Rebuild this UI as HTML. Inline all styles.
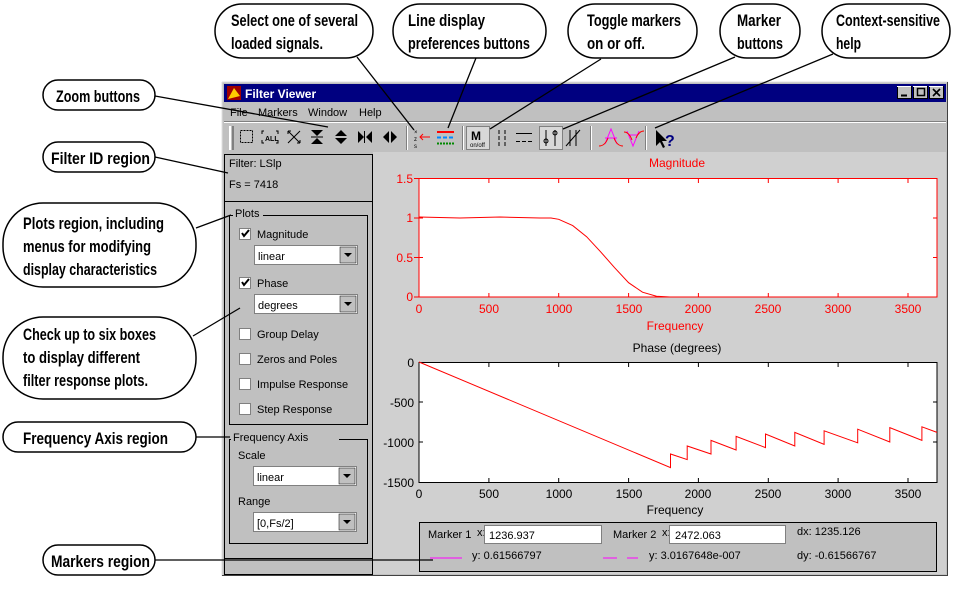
<!DOCTYPE html>
<html><head><meta charset="utf-8"><style>
html,body{margin:0;padding:0;background:#fff;}
svg{display:block;}
.c{font-family:"Liberation Sans",sans-serif;font-weight:bold;font-size:17px;fill:#000;}
.u{font-family:"Liberation Sans",sans-serif;font-size:11px;fill:#000;}
.r{font-family:"Liberation Sans",sans-serif;font-size:12px;fill:#f00;}
.k{font-family:"Liberation Sans",sans-serif;font-size:12px;fill:#000;}
</style></head><body>
<svg width="956" height="600" viewBox="0 0 956 600" xmlns="http://www.w3.org/2000/svg">
<rect width="956" height="600" fill="#fff"/>
<!-- window -->
<rect x="222" y="82" width="726" height="494" fill="#c0c0c0"/>
<line x1="222" y1="82" x2="948" y2="82" stroke="#e0e0e0"/>
<line x1="222" y1="82" x2="222" y2="576" stroke="#e0e0e0"/>
<line x1="947.5" y1="82" x2="947.5" y2="576" stroke="#404040"/>
<line x1="222" y1="575.5" x2="948" y2="575.5" stroke="#404040"/>
<rect x="224" y="84" width="722" height="18" fill="#000080"/>
<rect x="227" y="86" width="14" height="14" fill="#a00000"/>
<path d="M228 99 L234 88 L240 96 Z" fill="#ffcc00"/>
<text x="245" y="98" font-family="Liberation Sans" font-weight="bold" font-size="12" fill="#fff">Filter Viewer</text>
<g stroke="#000" fill="#c0c0c0">
<rect x="897.5" y="86.5" width="14" height="12"/><rect x="913.5" y="86.5" width="14" height="12"/><rect x="929.5" y="86.5" width="14" height="12"/>
</g>
<g fill="#fff"><rect x="897" y="86" width="14" height="1"/><rect x="913" y="86" width="14" height="1"/><rect x="929" y="86" width="14" height="1"/></g>
<line x1="901" y1="95.5" x2="907" y2="95.5" stroke="#000" stroke-width="2"/>
<rect x="917.5" y="88.5" width="7" height="7" fill="none" stroke="#000" stroke-width="1.5"/>
<path d="M933 89 L940 96 M940 89 L933 96" stroke="#000" stroke-width="1.6"/>
<!-- menu -->
<text x="230" y="116" class="u" font-size="11.5">File</text>
<text x="258" y="116" class="u" font-size="11.5">Markers</text>
<text x="308" y="116" class="u" font-size="11.5">Window</text>
<text x="359" y="116" class="u" font-size="11.5">Help</text>
<line x1="224" y1="121.5" x2="946" y2="121.5" stroke="#808080"/>
<line x1="224" y1="122.5" x2="946" y2="122.5" stroke="#fff"/>
<!-- toolbar -->
<rect x="229" y="126" width="2" height="24" fill="#fff"/><rect x="232" y="126" width="2" height="24" fill="#808080"/>
<g stroke="#000" fill="none" stroke-width="1">
<rect x="240.5" y="130.5" width="12" height="12" stroke-dasharray="2,1"/>
<path d="M264 131 h-2 v3 M276 131 h2 v3 M264 143 h-2 v-3 M276 143 h2 v-3"/>
<path d="M288 131 L300 143 M300 131 L288 143 M288 131 h3 M288 131 v3 M300 143 h-3 M300 143 v-3"/>
</g>
<text x="265" y="141" font-family="Liberation Sans" font-size="7" font-weight="bold">ALL</text>
<g fill="#000">
<path d="M311 130 h12 l-6 6 z M311 144 h12 l-6 -6 z"/><rect x="311" y="136.5" width="12" height="1"/>
<path d="M335 136 l6 -6 l6 6 z M335 138 l6 6 l6 -6 z"/>
<path d="M358 131 v12 l6 -6 z M372 131 v12 l-6 -6 z"/><rect x="364" y="131" width="1" height="12"/>
<path d="M389 131 v12 l-6 -6 z M391 131 v12 l6 -6 z"/>
</g>
<rect x="406" y="126" width="1" height="24" fill="#808080"/><rect x="407" y="126" width="1" height="24" fill="#fff"/>
<text x="414" y="134" font-family="Liberation Sans" font-size="6">×</text>
<text x="414" y="141" font-family="Liberation Sans" font-size="6">z</text>
<text x="414" y="148" font-family="Liberation Sans" font-size="6">s</text>
<path d="M420 137 h10 M423 134 l-3 3 l3 3" stroke="#f00" fill="none"/>
<rect x="437" y="131" width="17" height="2" fill="#f00"/>
<path d="M437 137.5 h17" stroke="#08f" stroke-width="2" stroke-dasharray="4,2"/>
<path d="M437 143.5 h17" stroke="#080" stroke-width="2" stroke-dasharray="2,1"/>
<rect x="462" y="126" width="1" height="24" fill="#808080"/><rect x="463" y="126" width="1" height="24" fill="#fff"/>
<rect x="466.5" y="126.5" width="23" height="23" fill="#d8d8d8" stroke="#808080"/>
<text x="471" y="140" font-family="Liberation Sans" font-weight="bold" font-size="12">M</text>
<text x="470" y="147" font-family="Liberation Sans" font-size="6">on/off</text>
<path d="M499 130 v4 M499 136 v4 M499 142 v4 M505 130 v4 M505 136 v4 M505 142 v4" stroke="#000"/>
<path d="M516 133.5 h16 M516 141.5 h4 M522 141.5 h4 M528 141.5 h4" stroke="#000"/>
<rect x="539.5" y="126.5" width="23" height="23" fill="#d8d8d8" stroke="#808080"/>
<path d="M546 130 v16 M555 130 v16" stroke="#000"/><circle cx="546" cy="141" r="2" fill="none" stroke="#000"/><circle cx="555" cy="133" r="2" fill="none" stroke="#000"/>
<path d="M566 146 L580 130 M570 130 v16 M576 130 v16" stroke="#000"/>
<rect x="590" y="126" width="1" height="24" fill="#808080"/><rect x="591" y="126" width="1" height="24" fill="#fff"/>
<path d="M605 144 L611 129 L617 144 M605 138 h12" stroke="#f0f" fill="none"/><path d="M599 146 q6 0 9 -8 M614 138 q3 8 9 8" stroke="#f00" fill="none"/>
<path d="M627 131 L633 146 L639 131 M628 135 h10" stroke="#f0f" fill="none"/><path d="M624 132 q5 0 8 8 M636 138 q3 -7 8 -7" stroke="#f00" fill="none"/>
<rect x="645" y="126" width="1" height="24" fill="#808080"/><rect x="646" y="126" width="1" height="24" fill="#fff"/>
<path d="M656 130 L656 146 L660 142 L663 148 L665 147 L662 141 L667 141 Z" fill="#000"/>
<text x="665" y="146" font-family="Liberation Sans" font-weight="bold" font-size="16" fill="#000080">?</text>
<!-- plot region bg -->
<rect x="373" y="152" width="573" height="422" fill="#d0d0d0"/>
<!-- left panel -->
<rect x="224.5" y="154.5" width="148" height="420" fill="#c0c0c0" stroke="#000"/>
<line x1="224" y1="201.5" x2="373" y2="201.5" stroke="#000"/>
<line x1="224" y1="558.5" x2="373" y2="558.5" stroke="#000"/>
<text x="229" y="167" class="u">Filter: LSlp</text>
<text x="229" y="188" class="u">Fs = 7418</text>
<rect x="229.5" y="215.5" width="138" height="209" fill="none" stroke="#000"/>
<rect x="233" y="209" width="30" height="12" fill="#c0c0c0"/>
<text x="235" y="217" class="u">Plots</text>
<rect x="229.5" y="439.5" width="138" height="104" fill="none" stroke="#000"/>
<rect x="231" y="432" width="108" height="12" fill="#c0c0c0"/>
<text x="233" y="441" class="u">Frequency Axis</text>
<!-- checkboxes -->
<g fill="#fff" stroke="#808080">
<rect x="239.5" y="228.5" width="11" height="11"/><rect x="239.5" y="277.5" width="11" height="11"/>
<rect x="239.5" y="328.5" width="11" height="11"/><rect x="239.5" y="353.5" width="11" height="11"/>
<rect x="239.5" y="378.5" width="11" height="11"/><rect x="239.5" y="403.5" width="11" height="11"/>
</g>
<path d="M242 233 l2 3 l5 -6 M242 282 l2 3 l5 -6" stroke="#000" stroke-width="2" fill="none"/>
<text x="257" y="238" class="u">Magnitude</text>
<text x="257" y="287" class="u">Phase</text>
<text x="257" y="338" class="u">Group Delay</text>
<text x="257" y="363" class="u">Zeros and Poles</text>
<text x="257" y="388" class="u">Impulse Response</text>
<text x="257" y="413" class="u">Step Response</text>
<!-- dropdowns -->
<g>
<rect x="254.5" y="245.5" width="103" height="19" fill="#fff" stroke="#808080"/><rect x="340" y="247" width="16" height="16" fill="#c0c0c0" stroke="#000" stroke-width="0.5"/><path d="M344 253 h8 l-4 4z" fill="#000"/>
<text x="258" y="260" class="u">linear</text>
<rect x="254.5" y="294.5" width="103" height="19" fill="#fff" stroke="#808080"/><rect x="340" y="296" width="16" height="16" fill="#c0c0c0" stroke="#000" stroke-width="0.5"/><path d="M344 302 h8 l-4 4z" fill="#000"/>
<text x="258" y="309" class="u">degrees</text>
<rect x="253.5" y="466.5" width="103" height="19" fill="#fff" stroke="#808080"/><rect x="339" y="468" width="16" height="16" fill="#c0c0c0" stroke="#000" stroke-width="0.5"/><path d="M343 474 h8 l-4 4z" fill="#000"/>
<text x="257" y="481" class="u">linear</text>
<rect x="253.5" y="512.5" width="103" height="19" fill="#fff" stroke="#808080"/><rect x="339" y="514" width="16" height="16" fill="#c0c0c0" stroke="#000" stroke-width="0.5"/><path d="M343 520 h8 l-4 4z" fill="#000"/>
<text x="257" y="527" class="u">[0,Fs/2]</text>
</g>
<text x="238" y="459" class="u">Scale</text>
<text x="238" y="505" class="u">Range</text>
<!-- magnitude plot -->
<text x="677" y="167" class="r" text-anchor="middle">Magnitude</text>
<rect x="419" y="178.5" width="518" height="118.5" fill="#fff" stroke="#f00"/>
<g stroke="#f00">
<path d="M488.9 179v4M558.7 179v4M628.6 179v4M698.4 179v4M768.3 179v4M838.1 179v4M908 179v4M488.9 297v-4M558.7 297v-4M628.6 297v-4M698.4 297v-4M768.3 297v-4M838.1 297v-4M908 297v-4"/>
<path d="M414 178.5h5M414 218h5M414 257.5h5M414 297h5M419 218h4M419 257.5h4M937 218h-4M937 257.5h-4"/>
</g>
<polyline fill="none" stroke="#f00" points="419,217 460,218 500,217 540,218 551,218 558.7,219.3 572.7,225.6 586.6,236.7 600.6,251.8 614.6,267.7 628.6,282.7 642.5,292.2 656.5,296.2 670,297 937,297"/>
<g class="r" text-anchor="end"><text x="413" y="183">1.5</text><text x="413" y="222">1</text><text x="413" y="262">0.5</text><text x="413" y="301">0</text></g>
<g class="r" text-anchor="middle"><text x="419" y="313">0</text><text x="489" y="313">500</text><text x="559" y="313">1000</text><text x="629" y="313">1500</text><text x="698" y="313">2000</text><text x="768" y="313">2500</text><text x="838" y="313">3000</text><text x="908" y="313">3500</text></g>
<text x="675" y="330" class="r" text-anchor="middle">Frequency</text>
<!-- phase plot -->
<text x="677" y="352" class="k" text-anchor="middle">Phase (degrees)</text>
<rect x="419" y="362.5" width="518" height="120" fill="#fff" stroke="#000"/>
<g stroke="#000">
<path d="M488.9 363v4M558.7 363v4M628.6 363v4M698.4 363v4M768.3 363v4M838.1 363v4M908 363v4M488.9 482v-4M558.7 482v-4M628.6 482v-4M698.4 482v-4M768.3 482v-4M838.1 482v-4M908 482v-4"/>
<path d="M419 402h4M419 442h4M937 402h-4M937 442h-4"/>
</g>
<polyline fill="none" stroke="#f00" points="419,362 670.5,467.6 670.5,454 687.2,459.6 687.2,446 711,454 711,440.4 736.1,450 736.1,436.4 765.5,447.6 765.5,434 794.8,446 794.8,432.4 824.1,444.4 824.1,430.8 857.7,442.8 857.7,429.2 889.8,442 889.8,427.6 921.9,440.4 921.9,426.8 937,432.4"/>
<g class="k" text-anchor="end"><text x="414" y="367">0</text><text x="414" y="407">-500</text><text x="414" y="447">-1000</text><text x="414" y="487">-1500</text></g>
<g class="k" text-anchor="middle"><text x="419" y="498">0</text><text x="489" y="498">500</text><text x="559" y="498">1000</text><text x="629" y="498">1500</text><text x="698" y="498">2000</text><text x="768" y="498">2500</text><text x="838" y="498">3000</text><text x="908" y="498">3500</text></g>
<text x="675" y="514" class="k" text-anchor="middle">Frequency</text>
<!-- markers region -->
<rect x="419.5" y="522.5" width="517" height="49" fill="#c0c0c0" stroke="#000"/>
<text x="428" y="538" class="u">Marker 1</text><text x="477" y="536" class="u" font-size="8">x:</text>
<rect x="484.5" y="525.5" width="117" height="18" fill="#fff" stroke="#808080"/><text x="489" y="539" class="u">1236.937</text>
<text x="613" y="538" class="u">Marker 2</text><text x="662" y="536" class="u" font-size="8">x:</text>
<rect x="669.5" y="525.5" width="116" height="18" fill="#fff" stroke="#808080"/><text x="675" y="539" class="u">2472.063</text>
<text x="797" y="535" class="u">dx: 1235.126</text>
<path d="M430 558h32" stroke="#f0f"/><path d="M603 558h14M627 558h11" stroke="#f0f"/>
<text x="472" y="559" class="u">y: 0.61566797</text>
<text x="649" y="559" class="u">y: 3.0167648e-007</text>
<text x="797" y="559" class="u">dy: -0.61566767</text>
<!-- callout lines -->
<g stroke="#000" stroke-width="1.3" fill="none">
<path d="M357 57 L414 130"/><path d="M476 58 L448 128"/><path d="M601 59 L490 129"/>
<path d="M735 57 L563 129"/><path d="M833 54 L655 128"/><path d="M155 96 L328 127"/>
<path d="M155 157 L228 173"/><path d="M196 228 L231 215"/><path d="M193 336 L240 308"/>
<path d="M196 437 L230 437"/><path d="M155 560 L433 560"/>
</g>
<!-- callouts -->
<g fill="#fff" stroke="#000" stroke-width="1.5">
<rect x="215" y="4" width="158" height="54" rx="27"/>
<rect x="393" y="4" width="153" height="54" rx="27"/>
<rect x="568" y="4" width="129" height="54" rx="27"/>
<rect x="720" y="4" width="80" height="54" rx="27"/>
<rect x="822" y="4" width="128" height="54" rx="27"/>
<rect x="43" y="80" width="112" height="30" rx="15"/>
<rect x="43" y="142" width="112" height="30" rx="15"/>
<rect x="3" y="203" width="193" height="84" rx="40"/>
<rect x="3" y="317" width="193" height="82" rx="40"/>
<rect x="3" y="422" width="193" height="30" rx="15"/>
<rect x="43" y="545" width="112" height="30" rx="15"/>
</g>
<g class="c">
<text x="231" y="26" textLength="127" lengthAdjust="spacingAndGlyphs">Select one of several</text>
<text x="231" y="49" textLength="92" lengthAdjust="spacingAndGlyphs">loaded signals.</text>
<text x="408" y="26" textLength="77" lengthAdjust="spacingAndGlyphs">Line display</text>
<text x="408" y="49" textLength="122" lengthAdjust="spacingAndGlyphs">preferences buttons</text>
<text x="587" y="26" textLength="94" lengthAdjust="spacingAndGlyphs">Toggle markers</text>
<text x="587" y="49" textLength="58" lengthAdjust="spacingAndGlyphs">on or off.</text>
<text x="737" y="26" textLength="44" lengthAdjust="spacingAndGlyphs">Marker</text>
<text x="737" y="49" textLength="46" lengthAdjust="spacingAndGlyphs">buttons</text>
<text x="836" y="26" textLength="104" lengthAdjust="spacingAndGlyphs">Context-sensitive</text>
<text x="836" y="49" textLength="25" lengthAdjust="spacingAndGlyphs">help</text>
<text x="56" y="102" textLength="84" lengthAdjust="spacingAndGlyphs">Zoom buttons</text>
<text x="51" y="164" textLength="99" lengthAdjust="spacingAndGlyphs">Filter ID region</text>
<text x="23" y="229" textLength="141" lengthAdjust="spacingAndGlyphs">Plots region, including</text>
<text x="23" y="252" textLength="128" lengthAdjust="spacingAndGlyphs">menus for modifying</text>
<text x="23" y="275" textLength="134" lengthAdjust="spacingAndGlyphs">display characteristics</text>
<text x="23" y="340" textLength="133" lengthAdjust="spacingAndGlyphs">Check up to six boxes</text>
<text x="23" y="363" textLength="117" lengthAdjust="spacingAndGlyphs">to display different</text>
<text x="23" y="386" textLength="125" lengthAdjust="spacingAndGlyphs">filter response plots.</text>
<text x="23" y="444" textLength="145" lengthAdjust="spacingAndGlyphs">Frequency Axis region</text>
<text x="51" y="567" textLength="99" lengthAdjust="spacingAndGlyphs">Markers region</text>
</g>
</svg>
</body></html>
